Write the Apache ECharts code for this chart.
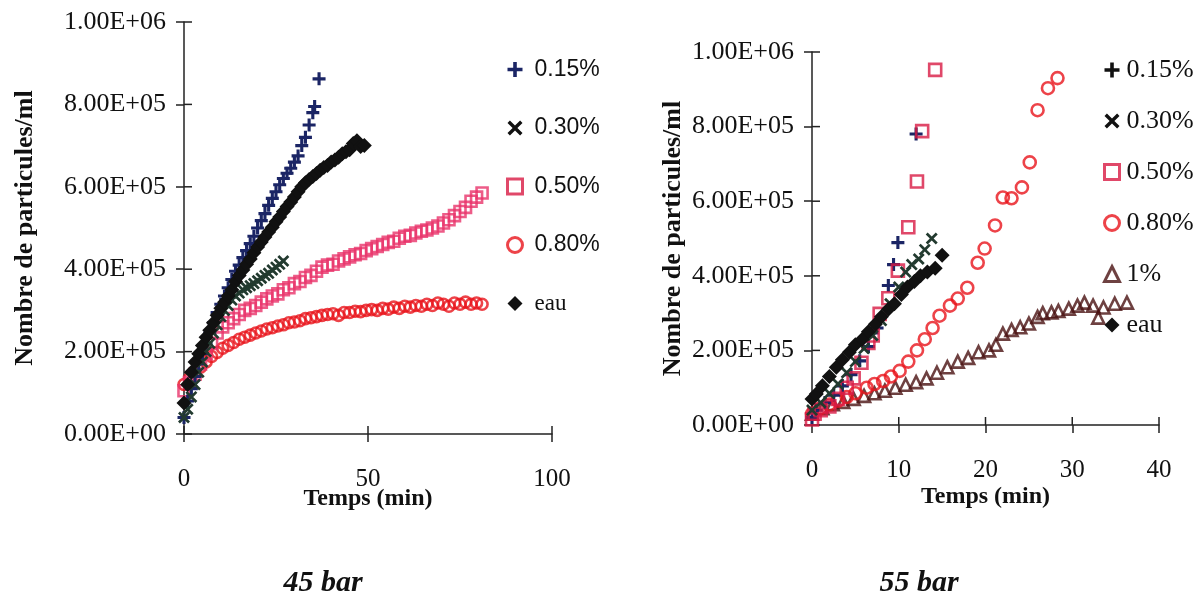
<!DOCTYPE html>
<html>
<head>
<meta charset="utf-8">
<script src="https://cdn.jsdelivr.net/npm/echarts@6/dist/echarts.min.js"></script>
<style>html,body{margin:0;padding:0;background:#fff}#c{width:1198px;height:600px}</style>
</head>
<body>
<div id="c"></div>
<script>
// ---------- tick labels / tick values ----------
const yTickLabels = ['0.00E+00','2.00E+05','4.00E+05','6.00E+05','8.00E+05','1.00E+06'];
const yTicks = [0,200000,400000,600000,800000,1000000];
const xTicks45 = [0,50,100];
const xTicks55 = [0,10,20,30,40];
const panelLabels = ['45 bar','55 bar'];
const seriesNames = ['0.15%','0.30%','0.50%','0.80%','1%','eau'];

// ---------- 45 bar ----------
const t45_015 = [0,1,2,3,4,5,6,7,8,9,10,11,12,13,14,15,16,17,18,19,20,21,22,23,24,25,26,27,28,29,30,31,32,33,34,35,35.5,36.7];
const v45_015 = [40000,80000,110000,140000,170000,195000,220000,245000,270000,295000,315000,335000,355000,375000,395000,410000,428000,445000,462000,480000,500000,518000,535000,555000,572000,588000,605000,620000,633000,645000,660000,675000,700000,720000,750000,780000,795000,862000];
const t45_030 = [0,1,2,3,4,5,6,7,8,9,10,11,12,13,14,15,16,17,18,19,20,21,22,23,24,25,26,27];
const v45_030 = [40000,60000,90000,120000,150000,175000,200000,220000,245000,265000,285000,300000,312000,325000,335000,342000,350000,355000,360000,365000,372000,378000,385000,390000,398000,405000,412000,420000];
const t45_050 = [0,1.5,3,4.5,6,7.5,9,10.5,12,13.5,15,16.5,18,19.5,21,22.5,24,25.5,27,28.5,30,31.5,33,34.5,36,37.5,39,40.5,42,43.5,45,46.5,48,49.5,51,52.5,54,55.5,57,58.5,60,61.5,63,64.5,66,67.5,69,70.5,72,73.5,75,76.5,78,79.5,81];
const v45_050 = [105000,125000,145000,170000,195000,220000,245000,260000,270000,280000,290000,300000,305000,312000,320000,328000,335000,340000,350000,355000,365000,370000,380000,385000,395000,405000,410000,412000,420000,425000,430000,435000,438000,445000,450000,455000,460000,465000,468000,475000,480000,482000,488000,492000,495000,500000,505000,512000,520000,530000,540000,550000,565000,575000,585000];
const t45_080 = [0,1.5,3,4.5,6,7.5,9,10.5,12,13.5,15,16.5,18,19.5,21,22.5,24,25.5,27,28.5,30,31.5,33,34.5,36,37.5,39,40.5,42,43.5,45,46.5,48,49.5,51,52.5,54,55.5,57,58.5,60,61.5,63,64.5,66,67.5,69,70.5,72,73.5,75,76.5,78,79.5,81];
const v45_080 = [120000,135000,150000,162000,175000,188000,198000,208000,215000,222000,230000,235000,240000,245000,250000,255000,258000,262000,265000,270000,272000,275000,280000,282000,285000,288000,290000,292000,288000,295000,295000,298000,297000,300000,302000,300000,305000,303000,308000,305000,310000,308000,312000,310000,315000,312000,318000,315000,310000,318000,315000,320000,315000,318000,315000];
const t45_eau = [0,1,2,3,4,5,6,7,8,9,10,11,12,13,14,15,16,17,18,19,20,21,22,23,24,25,26,27,28,29,30,31,32,33,34,35,36,37,38,39,40,41,42,43,44,45,46,47,48,49];
const v45_eau = [75000,120000,150000,175000,195000,215000,235000,252000,270000,288000,305000,320000,335000,350000,370000,385000,398000,412000,425000,440000,454000,466000,478000,490000,502000,515000,527000,540000,552000,563000,575000,588000,600000,610000,618000,625000,632000,640000,647000,652000,660000,665000,672000,680000,685000,690000,705000,712000,698000,700000];

// ---------- 55 bar ----------
const t55_015 = [0,0.5,1.5,2.5,3.5,4.5,5.5,6.5,7.5,8.8,9.4,9.9,12];
const v55_015 = [20000,40000,60000,80000,105000,135000,172000,210000,260000,374000,430000,489000,780000];
const t55_030 = [0,1,2,3,4,5,6,7,8,9,10,10.8,11.5,12.3,13,13.8];
const v55_030 = [40000,60000,85000,110000,140000,170000,205000,240000,280000,325000,370000,410000,430000,445000,470000,500000];
const t55_050 = [0,0.3,1,2,3,4,4.8,5.7,6.5,7,7.8,8.8,9.9,11.1,12.1,12.7,14.2];
const v55_050 = [15000,30000,40000,50000,70000,100000,125000,167000,220000,240000,298000,340000,414000,530000,653000,788000,952000];
const t55_080 = [0,1,2,3,4,5,6.3,7.2,8.2,9.1,10.1,11.1,12.1,13,13.9,14.7,15.9,16.8,17.9,19.1,19.9,21.1,22,23,24.2,25.1,26,27.2,28.3];
const v55_080 = [30000,45000,55000,65000,75000,85000,100000,110000,118000,130000,145000,170000,200000,230000,260000,293000,320000,339000,368000,435000,473000,535000,610000,608000,637000,704000,844000,903000,930000];
const t55_1 = [0,1.2,2.4,3.6,4.8,6,7.2,8.4,9.6,10.8,12,13.2,14.4,15.6,16.8,18,19.2,20.4,21.2,22,23,24,25,26,26.6,27.6,28.4,29.6,30.6,31.4,32.4,33,33.6,34.9,36.3];
const v55_1 = [30000,45000,56000,62000,70000,78000,85000,92000,100000,108000,115000,125000,140000,155000,170000,180000,195000,200000,215000,245000,255000,262000,272000,290000,300000,302000,306000,312000,320000,328000,320000,288000,315000,325000,328000];
const t55_eau = [0,0.5,1.2,2,2.8,3.5,4.3,5,5.8,6.5,7.3,8,8.8,9.5,10.3,11,11.8,12.5,13.3,14.2,15];
const v55_eau = [70000,83000,105000,130000,155000,175000,195000,215000,230000,250000,270000,290000,310000,325000,350000,370000,385000,400000,410000,420000,455000];

// ---------- styling ----------
const SERIF = 'Liberation Serif';
const SANS = 'Liberation Sans';
const PLUS = 'path://M3.8,0H6.2V3.8H10V6.2H6.2V10H3.8V6.2H0V3.8H3.8Z';
const CROSS = 'path://M1.6,0L5,3.4L8.4,0L10,1.6L6.6,5L10,8.4L8.4,10L5,6.6L1.6,10L0,8.4L3.4,5L0,1.6Z';
const C = {
  p015: '#1b2565', p030: '#223a2f', p050L: '#e8336a', p050R: '#d81a44',
  p080: '#e8141c', p1: '#4a1212', eau: '#111111'
};
const TICK = { color: '#222', width: 1.5 };

function zip(t, v) { return t.map((x, i) => [x, v[i]]); }

function scatter(name, t, v, idx, symbol, color, size, hollow) {
  return {
    type: 'scatter', name, xAxisIndex: idx, yAxisIndex: idx,
    data: zip(t, v), symbol, symbolSize: size, silent: true,
    itemStyle: hollow ? { color: 'rgba(255,255,255,0)', borderColor: color, borderWidth: 2.6 } : { color, opacity: 1 },
    emphasis: { disabled: true }
  };
}

// inner half of the crossing ticks, placed through the axes' own scales
function innerTicks(idx, xt) {
  const data = xt.map(v => [v, 0, 0]).concat(yTicks.map(v => [0, v, 1]));
  return {
    type: 'custom', xAxisIndex: idx, yAxisIndex: idx, silent: true, clip: false, z: 1,
    data,
    renderItem: (params, api) => {
      const p = api.coord([api.value(0), api.value(1)]);
      const isX = api.value(2) === 0;
      return {
        type: 'line',
        shape: isX ? { x1: p[0], y1: p[1], x2: p[0], y2: p[1] - 8 } : { x1: p[0], y1: p[1], x2: p[0] + 8, y2: p[1] },
        style: { stroke: TICK.color, lineWidth: TICK.width }
      };
    }
  };
}

function xAxis(grid, max, interval, gap) {
  return {
    gridIndex: grid, type: 'value', min: 0, max, interval, position: 'bottom',
    splitLine: { show: false },
    axisLine: { show: true, onZero: false, lineStyle: TICK },
    axisTick: { show: true, length: 8, lineStyle: TICK },
    axisLabel: { margin: 33, fontFamily: SERIF, fontSize: 25, color: '#111' },
    name: 'Temps (min)', nameLocation: 'middle', nameGap: gap, nameMoveOverlap: false,
    nameTextStyle: { fontFamily: SERIF, fontWeight: 'bold', fontSize: 24, color: '#111' }
  };
}

function yAxis(grid, gap) {
  return {
    gridIndex: grid, type: 'value', min: 0, max: 1000000, interval: 200000, position: 'left',
    splitLine: { show: false },
    axisLine: { show: true, onZero: false, lineStyle: TICK },
    axisTick: { show: true, length: 8, lineStyle: TICK },
    axisLabel: {
      margin: 18, fontFamily: SERIF, fontSize: 26, color: '#111',
      formatter: v => yTickLabels[yTicks.indexOf(v)]
    },
    name: 'Nombre de particules/ml', nameLocation: 'middle', nameGap: gap,
    nameTextStyle: { fontFamily: SERIF, fontWeight: 'bold', fontSize: 26, color: '#111' }
  };
}

function legendItem(name, icon, color, hollow, font) {
  const it = { name, icon,
    itemStyle: hollow ? { color: 'rgba(255,255,255,0)', borderColor: color, borderWidth: 3 } : { color, borderWidth: 0, opacity: 1 } };
  if (font) it.textStyle = { fontFamily: font };
  return it;
}

const chart = echarts.init(document.getElementById('c'), null, { renderer: 'canvas' });
chart.setOption({
  backgroundColor: '#ffffff',
  animation: false,
  grid: [
    { left: 184, top: 22, width: 368, height: 412 },
    { left: 812, top: 52, width: 347, height: 373 }
  ],
  xAxis: [xAxis(0, 100, 50, 53), xAxis(1, 40, 10, 60)],
  yAxis: [yAxis(0, 146), yAxis(1, 126)],
  legend: [
    {
      orient: 'vertical', left: 506, top: 58, padding: 0, itemWidth: 15, itemHeight: 15, itemGap: 35.5,
      selectedMode: false,
      textStyle: { fontFamily: SANS, fontSize: 23, color: '#111', padding: [0, 0, 0, 7] },
      data: [
        legendItem(seriesNames[0], PLUS, C.p015, false),
        legendItem(seriesNames[1], CROSS, '#111', false),
        legendItem(seriesNames[2], 'rect', C.p050R, true),
        legendItem(seriesNames[3], 'circle', C.p080, true),
        legendItem(seriesNames[5], 'diamond', C.eau, false, SERIF)
      ]
    },
    {
      orient: 'vertical', left: 1103, top: 57, padding: 0, itemWidth: 15, itemHeight: 15, itemGap: 25,
      selectedMode: false,
      textStyle: { fontFamily: SERIF, fontSize: 26, color: '#111', padding: [0, 0, 0, 2] },
      data: [
        legendItem(seriesNames[0], PLUS, '#111', false),
        legendItem(seriesNames[1], CROSS, '#111', false),
        legendItem(seriesNames[2], 'rect', C.p050R, true),
        legendItem(seriesNames[3], 'circle', C.p080, true),
        legendItem(seriesNames[4], 'triangle', C.p1, true),
        legendItem(seriesNames[5], 'diamond', C.eau, false)
      ]
    }
  ],
  graphic: [
    { type: 'text', x: 323, y: 583, style: { text: panelLabels[0], align: 'center', verticalAlign: 'middle',
      font: 'italic bold 30px "Liberation Serif"', fill: '#111' } },
    { type: 'text', x: 919, y: 583, style: { text: panelLabels[1], align: 'center', verticalAlign: 'middle',
      font: 'italic bold 30px "Liberation Serif"', fill: '#111' } }
  ],
  series: [
    innerTicks(0, xTicks45),
    innerTicks(1, xTicks55),

    scatter(seriesNames[3], t45_080, v45_080, 0, 'circle', C.p080, 11, true),
    scatter(seriesNames[2], t45_050, v45_050, 0, 'rect', C.p050L, 11, true),
    scatter(seriesNames[0], t45_015, v45_015, 0, PLUS, C.p015, 13, false),
    scatter(seriesNames[1], t45_030, v45_030, 0, CROSS, C.p030, 12, false),
    scatter(seriesNames[5], t45_eau, v45_eau, 0, 'diamond', C.eau, 15, false),

    scatter(seriesNames[4], t55_1, v55_1, 1, 'triangle', C.p1, 12, true),
    scatter(seriesNames[3], t55_080, v55_080, 1, 'circle', C.p080, 12, true),
    scatter(seriesNames[0], t55_015, v55_015, 1, PLUS, C.p015, 13, false),
    scatter(seriesNames[2], t55_050, v55_050, 1, 'rect', C.p050R, 12, true),
    scatter(seriesNames[1], t55_030, v55_030, 1, CROSS, C.p030, 12, false),
    scatter(seriesNames[5], t55_eau, v55_eau, 1, 'diamond', C.eau, 15, false)
  ]
});
</script>
</body>
</html>
